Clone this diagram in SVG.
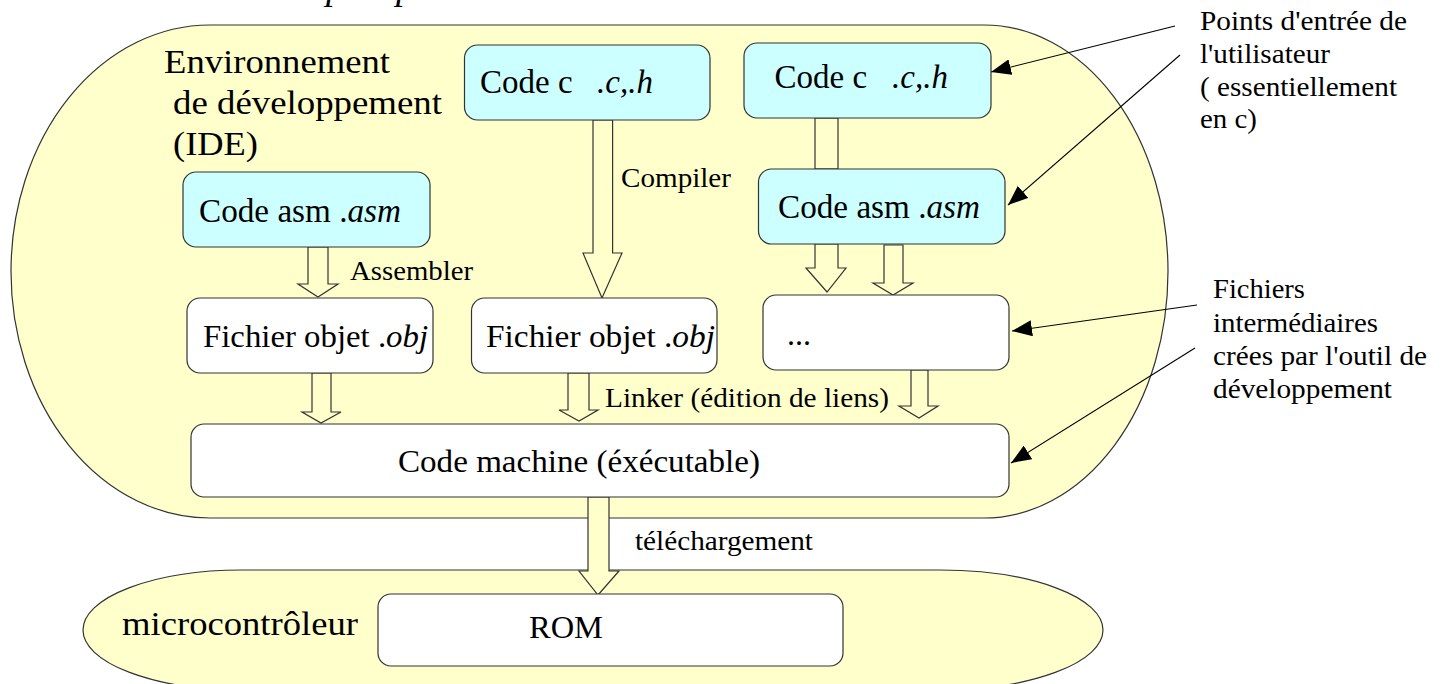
<svg xmlns="http://www.w3.org/2000/svg" width="1445" height="684" viewBox="0 0 1445 684">
<defs>
<style>
text{font-family:"Liberation Serif","Times New Roman",serif;fill:#000}
.it{font-style:italic}
.zone{fill:#ffffcc;stroke:#333;stroke-width:1.2}
.cyan{fill:#ccffff;stroke:#333;stroke-width:1.2}
.white{fill:#fff;stroke:#333;stroke-width:1.2}
.blk{fill:#ffffcc;stroke:#333;stroke-width:1.2}
.lead{stroke:#000;stroke-width:1.1;fill:none;marker-end:url(#ah)}
.n{font-size:33px}
.l{font-size:27px}
</style>
<marker id="ah" markerWidth="22" markerHeight="16" refX="20" refY="8" orient="auto" markerUnits="userSpaceOnUse">
<path d="M0,0 L20,8 L0,16 Z" fill="#000"/>
</marker>
</defs>
<rect width="1445" height="684" fill="#fff"/>

<text class="it" x="326" y="-1" font-size="38">p</text>
<text class="it" x="396" y="-1" font-size="38">p</text>

<g id="ide">
<path class="zone" d="M210,25 H984 A184,246.5 0 0 1 984,518 H210 A199,246.5 0 0 1 210,25 Z"/>
<text class="n" x="164" y="73" textLength="226" lengthAdjust="spacingAndGlyphs">Environnement</text>
<text class="n" x="173" y="114" textLength="269" lengthAdjust="spacingAndGlyphs">de développement</text>
<text class="n" x="173" y="155" textLength="85" lengthAdjust="spacingAndGlyphs">(IDE)</text>
</g>

<g id="micro">
<path class="zone" d="M242,570 H940 A163,60 0 0 1 940,690 H242 A159,60 0 0 1 242,570 Z"/>
<text x="122" y="635" font-size="34" textLength="236" lengthAdjust="spacingAndGlyphs">microcontrôleur</text>
</g>

<g id="connectors">
<polygon class="blk" points="593,120 612.6,120 612.6,253 622,253 602,298 583,253 593,253"/>
<rect class="blk" x="815" y="118" width="23" height="51"/>
<polygon class="blk" points="815,244 838,244 838,268 846,268 827,292 806,268 815,268"/>
<polygon class="blk" points="884,245 903,245 903,283 913,283 893,295 873,283 884,283"/>
<polygon class="blk" points="308,247 328,247 328,284 338,284 318,297 298,284 308,284"/>
<polygon class="blk" points="312,373 331,373 331,412 341,412 321,423 302,412 312,412"/>
<polygon class="blk" points="568,373 589,373 589,410 598,410 579,421 559,410 568,410"/>
<polygon class="blk" points="911,370 928,370 928,406 938,406 919,418 899,406 911,406"/>
<polygon class="blk" points="588,497 609,497 609,571 619,571 598,595 579,571 588,571"/>
<line class="lead" x1="1175" y1="26" x2="991" y2="72"/>
<line class="lead" x1="1180" y1="55" x2="1008" y2="205"/>
<line class="lead" x1="1197" y1="305" x2="1012" y2="331"/>
<line class="lead" x1="1195" y1="348" x2="1011" y2="463"/>
<text class="l" x="621" y="187" textLength="110" lengthAdjust="spacingAndGlyphs">Compiler</text>
<text class="l" x="350" y="280" textLength="123" lengthAdjust="spacingAndGlyphs">Assembler</text>
<text class="l" x="605" y="407" textLength="284" lengthAdjust="spacingAndGlyphs">Linker (édition de liens)</text>
<text class="l" x="635" y="550" textLength="178" lengthAdjust="spacingAndGlyphs">téléchargement</text>
</g>

<g id="code-c-1">
<rect class="cyan" x="464.5" y="45" width="245.5" height="75" rx="13"/>
<text class="n" x="480" y="93">Code c</text>
<text class="n it" x="597" y="93">.c,.h</text>
</g>

<g id="code-c-2">
<rect class="cyan" x="744" y="43" width="247" height="75" rx="13"/>
<text class="n" x="774.5" y="88">Code c</text>
<text class="n it" x="892" y="88">.c,.h</text>
</g>

<g id="code-asm-1">
<rect class="cyan" x="183" y="172" width="247" height="75" rx="13"/>
<text class="n" x="199" y="222" textLength="202" lengthAdjust="spacingAndGlyphs">Code asm .<tspan class="it">asm</tspan></text>
</g>

<g id="code-asm-2">
<rect class="cyan" x="758.5" y="169" width="246.5" height="75" rx="13"/>
<text class="n" x="778" y="218" textLength="202" lengthAdjust="spacingAndGlyphs">Code asm .<tspan class="it">asm</tspan></text>
</g>

<g id="obj-1">
<rect class="white" x="187" y="298" width="246" height="75" rx="13"/>
<text x="203" y="347" font-size="32" textLength="225" lengthAdjust="spacingAndGlyphs">Fichier objet .<tspan class="it">obj</tspan></text>
</g>

<g id="obj-2">
<rect class="white" x="471.5" y="298" width="245.5" height="75" rx="13"/>
<text x="486" y="347" font-size="32" textLength="229" lengthAdjust="spacingAndGlyphs">Fichier objet .<tspan class="it">obj</tspan></text>
</g>

<g id="dots">
<rect class="white" x="763" y="295" width="246" height="75" rx="13"/>
<text x="787" y="345" font-size="32">...</text>
</g>

<g id="machine">
<rect class="white" x="191" y="424" width="818" height="73" rx="13"/>
<text x="398" y="472" font-size="32" textLength="362" lengthAdjust="spacingAndGlyphs">Code machine (éxécutable)</text>
</g>

<g id="rom">
<rect class="white" x="378" y="594" width="465" height="72" rx="13"/>
<text x="529" y="638" font-size="32" textLength="74" lengthAdjust="spacingAndGlyphs">ROM</text>
</g>

<g id="note-entry">
<text class="l" x="1200" y="30" textLength="207" lengthAdjust="spacingAndGlyphs">Points d'entrée de</text>
<text class="l" x="1200" y="63" textLength="130" lengthAdjust="spacingAndGlyphs">l'utilisateur</text>
<text class="l" x="1200" y="96" textLength="197" lengthAdjust="spacingAndGlyphs">( essentiellement</text>
<text class="l" x="1200" y="128" textLength="57" lengthAdjust="spacingAndGlyphs">en c)</text>
</g>

<g id="note-files">
<text class="l" x="1213" y="298" textLength="92" lengthAdjust="spacingAndGlyphs">Fichiers</text>
<text class="l" x="1213" y="332" textLength="165" lengthAdjust="spacingAndGlyphs">intermédiaires</text>
<text class="l" x="1213" y="365" textLength="214" lengthAdjust="spacingAndGlyphs">crées par l'outil de</text>
<text class="l" x="1213" y="398" textLength="179" lengthAdjust="spacingAndGlyphs">développement</text>
</g>
</svg>
